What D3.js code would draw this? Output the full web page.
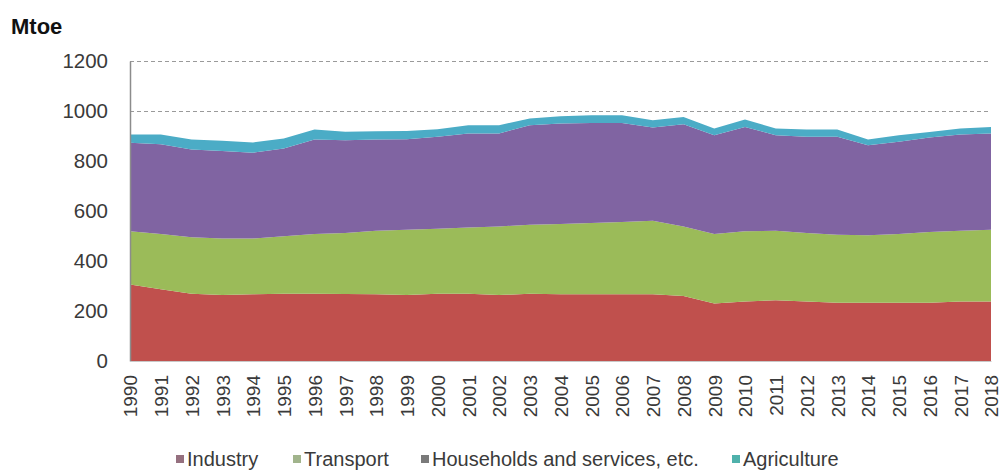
<!DOCTYPE html>
<html>
<head>
<meta charset="utf-8">
<script src="https://cdn.jsdelivr.net/npm/d3@7/dist/d3.min.js"></script>
<style>
  html, body { margin: 0; padding: 0; background: #ffffff; }
  svg { display: block; font-family: "Liberation Sans", Arial, sans-serif; }
</style>
</head>
<body>
<svg id="chart" width="1001" height="470"></svg>
<script>
const years = [1990,1991,1992,1993,1994,1995,1996,1997,1998,1999,2000,2001,2002,2003,2004,2005,2006,2007,2008,2009,2010,2011,2012,2013,2014,2015,2016,2017,2018];
const industry    = [306,287,269,264,267,269,269,268,267,264,269,269,264,269,267,267,267,267,260,230,238,243,238,233,233,233,233,238,238];
const transport   = [213,221,226,226,223,230,239,244,254,261,260,265,274,276,281,285,289,294,278,278,281,278,274,272,270,275,283,283,287];
const households  = [354,359,351,350,343,351,378,371,365,362,368,376,372,398,402,400,396,373,409,395,417,382,385,392,360,369,378,385,385];
const agriculture = [33,39,40,41,41,40,40,34,33,33,30,33,33,27,29,31,31,29,29,27,30,27,29,29,23,26,22,24,26];
const seriesNames = ["Industry", "Transport", "Households and services, etc.", "Agriculture"];
const yTicks = [0, 200, 400, 600, 800, 1000, 1200];
const unitLabel = "Mtoe";

const areaColors   = ["#C0504D", "#9BBB59", "#8064A2", "#4BACC6"];
const legendColors = ["#95707f", "#a1b48c", "#7a7a7a", "#4fb1ab"];

(function () {
const svg = d3.select("#chart");
const mLeft = 130, mRight = 991, mTop = 61, mBottom = 361;

const rows = years.map((yr, i) => ({
  year: yr,
  [seriesNames[0]]: industry[i],
  [seriesNames[1]]: transport[i],
  [seriesNames[2]]: households[i],
  [seriesNames[3]]: agriculture[i]
}));

const x = d3.scalePoint().domain(years).range([mLeft, mRight]);
const y = d3.scaleLinear().domain([0, 1200]).range([mBottom, mTop]);

// gridlines
svg.append("g").selectAll("line")
  .data(yTicks.filter(d => d > 0))
  .join("line")
  .attr("x1", mLeft).attr("x2", mRight)
  .attr("y1", d => y(d) + 0.5).attr("y2", d => y(d) + 0.5)
  .attr("stroke", "#9a9a9a").attr("stroke-width", 1)
  .attr("stroke-dasharray", "4,3");

// stacked areas
const stack = d3.stack().keys(seriesNames);
const layers = stack(rows);
const area = d3.area()
  .x(d => x(d.data.year))
  .y0(d => y(d[0]))
  .y1(d => y(d[1]));

svg.append("g").selectAll("path")
  .data(layers)
  .join("path")
  .attr("d", area)
  .attr("fill", (d, i) => areaColors[i]);

// y axis
const yAxis = d3.axisLeft(y).tickValues(yTicks).tickSize(0).tickPadding(22).tickFormat(d3.format("d"));
const gy = svg.append("g").attr("transform", `translate(${mLeft},0)`).call(yAxis);
gy.select(".domain").attr("stroke", "#8c8c8c").attr("stroke-width", 1.5);
gy.selectAll("text").attr("font-size", 20.5).attr("fill", "#3a3a3a")
  .attr("font-family", "'Liberation Sans', Arial, sans-serif");

// x axis
const xAxis = d3.axisBottom(x).tickSize(0).tickPadding(0);
const gx = svg.append("g").attr("transform", `translate(0,${mBottom})`).call(xAxis);
gx.select(".domain").attr("stroke", "#c8c8c8").attr("stroke-width", 1);
gx.selectAll("text")
  .attr("font-size", 19).attr("fill", "#3a3a3a")
  .attr("font-family", "'Liberation Sans', Arial, sans-serif")
  .attr("text-anchor", "end")
  .attr("transform", "rotate(-90)")
  .attr("x", -14).attr("y", 0).attr("dy", "0.36em");

// unit label
svg.append("text").attr("x", 11).attr("y", 34)
  .attr("font-size", 22).attr("font-weight", "bold").attr("fill", "#111")
  .text(unitLabel);

// legend
const legendX = [176, 293, 421, 732];
const lg = svg.append("g").selectAll("g")
  .data(seriesNames)
  .join("g")
  .attr("transform", (d, i) => `translate(${legendX[i]},0)`);
lg.append("rect").attr("x", 0).attr("y", 455).attr("width", 8).attr("height", 8)
  .attr("fill", (d, i) => legendColors[i]);
lg.append("text").attr("x", 11).attr("y", 466)
  .attr("font-size", 20).attr("fill", "#3a3a3a")
  .text(d => d);
})();
</script>
</body>
</html>
